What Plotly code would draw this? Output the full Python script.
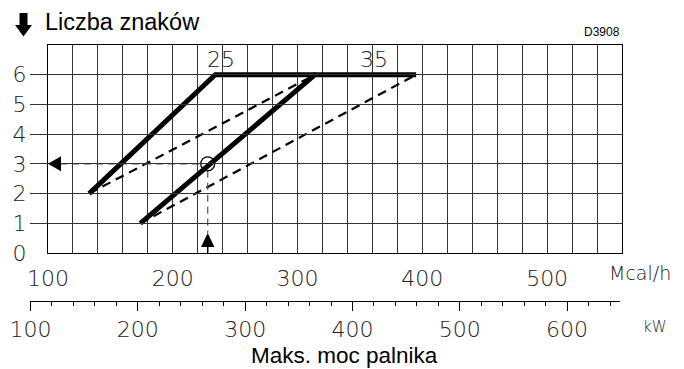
import plotly.graph_objects as go

# --- data -----------------------------------------------------------------
# burner output scale (Mcal/h) and number of signs
mcal_ticks = list(range(100, 561, 20))
mcal_labels = [str(v) if v % 100 == 0 else "" for v in mcal_ticks]
sign_ticks = [0, 1, 2, 3, 4, 5, 6]
kw_major = [100, 200, 300, 400, 500, 600]
kw_minor_step = 20
KCAL_PER_KW = 0.86

# thick curves (labelled 25 and 35)
curve25_power = [133, 234, 314]
curve25_signs = [2, 6, 6]
curve35_power = [174, 314, 395]
curve35_signs = [1, 6, 6]

# dashed limits
dash_upper_power = [133, 314]
dash_upper_signs = [2, 6]
dash_lower_power = [174, 395]
dash_lower_signs = [1, 6]

# example reading
reading_power = 228
reading_signs = 3

# --- page geometry (pixels as seen in the window) ---------------------------
# the page body has an 8px margin, so the figure starts at (8, 8)
BODY = 8
WIN_W, WIN_H = 684, 369
W, H = WIN_W - BODY, WIN_H - BODY
L, R, T, B = 30, 62, 45, 68            # in window pixels
PLOT_LEFT, PLOT_RIGHT, PLOT_BOTTOM = 48, 622, 253
KW_END = 620
paper_w = WIN_W - L - R
paper_h = WIN_H - T - B


def px(x):
    return (x - L) / paper_w


def py(y):
    return (WIN_H - B - y) / paper_h


mcal_per_px = (mcal_ticks[-1] - mcal_ticks[0]) / (PLOT_RIGHT - PLOT_LEFT)
px_per_sign = (PLOT_BOTTOM - T) / 7


def kw_at(p):
    return (mcal_ticks[0] + (p - PLOT_LEFT) * mcal_per_px) / KCAL_PER_KW


CAD_FONT = dict(family="DejaVu Sans", size=22, color="#222", weight=200)
TEXT_FONT = dict(family="Liberation Sans, Arial", color="black")

fig = go.Figure()

fig.add_trace(go.Scatter(x=dash_upper_power, y=dash_upper_signs, mode="lines",
                         line=dict(color="black", width=2.2, dash="9px,6px")))
fig.add_trace(go.Scatter(x=dash_lower_power, y=dash_lower_signs, mode="lines",
                         line=dict(color="black", width=2.2, dash="9px,6px")))
fig.add_trace(go.Scatter(x=curve25_power, y=curve25_signs, mode="lines",
                         line=dict(color="black", width=5)))
fig.add_trace(go.Scatter(x=curve35_power, y=curve35_signs, mode="lines",
                         line=dict(color="black", width=5)))

# reading guides, stopped at the circle edge
r_px = 7
fig.add_trace(go.Scatter(
    x=[mcal_ticks[0] + 12 * mcal_per_px, reading_power - r_px * mcal_per_px],
    y=[reading_signs, reading_signs], mode="lines",
    line=dict(color="#555", width=1.2, dash="7px,5px")))
fig.add_trace(go.Scatter(
    x=[reading_power, reading_power],
    y=[reading_signs - r_px / px_per_sign, 20 / px_per_sign], mode="lines",
    line=dict(color="#555", width=1.2, dash="7px,5px")))
fig.add_trace(go.Scatter(
    x=[reading_power], y=[reading_signs], mode="markers",
    marker=dict(symbol="circle-open", size=14, color="black",
                line=dict(width=1.3, color="black"))))

# invisible trace to carry the kW axis
fig.add_trace(go.Scatter(x=[kw_major[0], kw_major[-1]], y=[None, None],
                         xaxis="x2", yaxis="y", mode="lines", hoverinfo="skip"))

# arrowheads at the reading
fig.add_shape(type="path", xref="x", yref="y", xsizemode="pixel", ysizemode="pixel",
              xanchor=mcal_ticks[0], yanchor=reading_signs,
              path="M0,0 L13,7.5 L13,-7.5 Z", fillcolor="black", line=dict(width=0))
fig.add_shape(type="path", xref="x", yref="y", xsizemode="pixel", ysizemode="pixel",
              xanchor=reading_power, yanchor=0,
              path="M0,20 L-6.7,6 L6.7,6 Z", fillcolor="black", line=dict(width=0))
fig.add_shape(type="path", xref="x", yref="y", xsizemode="pixel", ysizemode="pixel",
              xanchor=reading_power, yanchor=0,
              path="M0,6 L0,0", line=dict(color="black", width=1.5))

# down arrow icon in front of the title
arrow_pts = [(19.5, 13), (27.5, 13), (27.5, 25), (32, 25), (23.5, 36.5),
             (15, 25), (19.5, 25)]
arrow_path = "M" + " L".join(f"{px(a):.4f},{py(b):.4f}" for a, b in arrow_pts) + " Z"
fig.add_shape(type="path", xref="paper", yref="paper", path=arrow_path,
              fillcolor="black", line=dict(width=0))

annotations = [
    dict(x=px(43), y=py(22), text="Liczba znaków", xanchor="left",
         font=dict(TEXT_FONT, size=23.5)),
    dict(x=px(622), y=py(32), text="D3908", xanchor="right",
         font=dict(TEXT_FONT, size=12)),
    dict(x=px(607), y=py(273), text="Mcal/h", xanchor="left",
         font=dict(CAD_FONT, size=19)),
    dict(x=px(641), y=py(327), text="kW", xanchor="left",
         font=dict(CAD_FONT, size=15)),
    dict(x=px(344), y=py(355), text="Maks. moc palnika", xanchor="center",
         font=dict(TEXT_FONT, size=22.5)),
]
for a in annotations:
    a.update(xref="paper", yref="paper", yanchor="middle", showarrow=False)
annotations += [
    dict(x=239, y=6, text="25", xref="x", yref="y", yanchor="bottom", yshift=1,
         showarrow=False, font=CAD_FONT),
    dict(x=361, y=6, text="35", xref="x", yref="y", yanchor="bottom", yshift=1,
         showarrow=False, font=CAD_FONT),
]

fig.update_layout(
    width=W, height=H,
    margin=dict(l=L - BODY, r=R, t=T - BODY, b=B, autoexpand=False),
    paper_bgcolor="white",
    plot_bgcolor="rgba(0,0,0,0)",
    showlegend=False,
    annotations=annotations,
    xaxis=dict(
        domain=[px(PLOT_LEFT), 1], range=[mcal_ticks[0], mcal_ticks[-1]],
        tickvals=mcal_ticks, ticktext=mcal_labels, ticks="",
        showgrid=True, gridcolor="#333", gridwidth=1, zeroline=False,
        showline=True, mirror=True, linecolor="black", linewidth=1,
        tickfont=CAD_FONT, ticklabelstandoff=6, automargin=False,
    ),
    yaxis=dict(
        domain=[py(PLOT_BOTTOM), 1], range=[0, 7],
        tickvals=sign_ticks, ticks="",
        showgrid=True, gridcolor="#333", gridwidth=1, zeroline=False,
        showline=True, mirror=True, linecolor="black", linewidth=1,
        tickfont=CAD_FONT, ticklabelstandoff=16, automargin=False,
    ),
    xaxis2=dict(
        domain=[0, px(KW_END)], range=[kw_at(L), kw_at(KW_END)],
        anchor="free", position=0, automargin=False,
        tick0=kw_major[0], dtick=kw_major[1] - kw_major[0],
        ticks="outside", ticklen=9, tickcolor="black", tickwidth=1,
        showline=True, linecolor="black", linewidth=1,
        showgrid=False, zeroline=False, tickfont=CAD_FONT,
        minor=dict(tick0=kw_major[0], dtick=kw_minor_step, ticks="outside",
                   ticklen=4, tickcolor="black", tickwidth=1, showgrid=False),
    ),
)

fig.write_html("out.html")
